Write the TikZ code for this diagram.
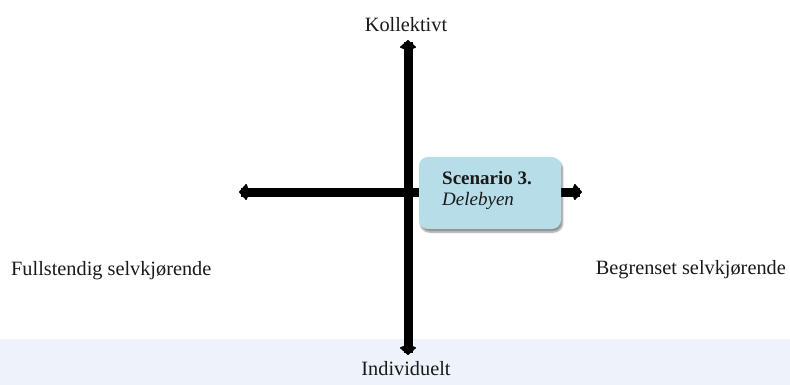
\documentclass[tikz,border=0pt]{standalone}
\usepackage{fontspec}
\setmainfont{Liberation Serif}
\usetikzlibrary{arrows.meta,shadows.blur}
\definecolor{bandcol}{HTML}{EEF2FA}
\definecolor{boxcol}{HTML}{B7DDE8}
\tikzset{
  axis/.style={line width=9pt,
    {Kite[length=11pt,width=17pt,inset=3.5pt,line width=1pt,round]}-{Kite[length=11pt,width=17pt,inset=3.5pt,line width=1pt,round]}},
  axislabel/.style={font=\fontsize{20.3}{24}\selectfont, inner sep=0pt, text=black!90},
  scenbox/.style={fill=boxcol, rounded corners=9pt, minimum width=142pt, minimum height=72pt,
    blur shadow={shadow xshift=1.5pt, shadow yshift=-3pt, shadow blur steps=6, shadow opacity=45}},
  boxtext/.style={font=\fontsize{19}{22}\selectfont, inner sep=0pt, anchor=base west, text=black!90}
}
\begin{document}
\begin{tikzpicture}[x=1pt,y=-1pt]
  \useasboundingbox (0,0) rectangle (790,385);
  % pale band along the bottom
  \fill[bandcol] (0,339) rectangle (790,385);

  % axis end points
  \coordinate (top) at (408,40);
  \coordinate (bottom) at (408,355);
  \coordinate (left) at (239,192);
  \coordinate (right) at (582,192);

  \draw[axis] (left) -- (right);
  \draw[axis] (top) -- (bottom);

  % scenario box
  \node[scenbox] (box) at (490,193) {};
  \node[boxtext] (title) at (442,185) {\bfseries Scenario 3.};
  \node[boxtext] (name) at (442,205) {\itshape Delebyen};

  % axis labels
  \node[axislabel, anchor=base] (kollektivt) at (406,32) {Kollektivt};
  \node[axislabel, anchor=base] (individuelt) at (406,375) {Individuelt};
  \node[axislabel, anchor=base west] (fullstendig) at (11,275) {Fullstendig selvkjørende};
  \node[axislabel, anchor=base east] (begrenset) at (786,274) {Begrenset selvkjørende};
\end{tikzpicture}
\end{document}
